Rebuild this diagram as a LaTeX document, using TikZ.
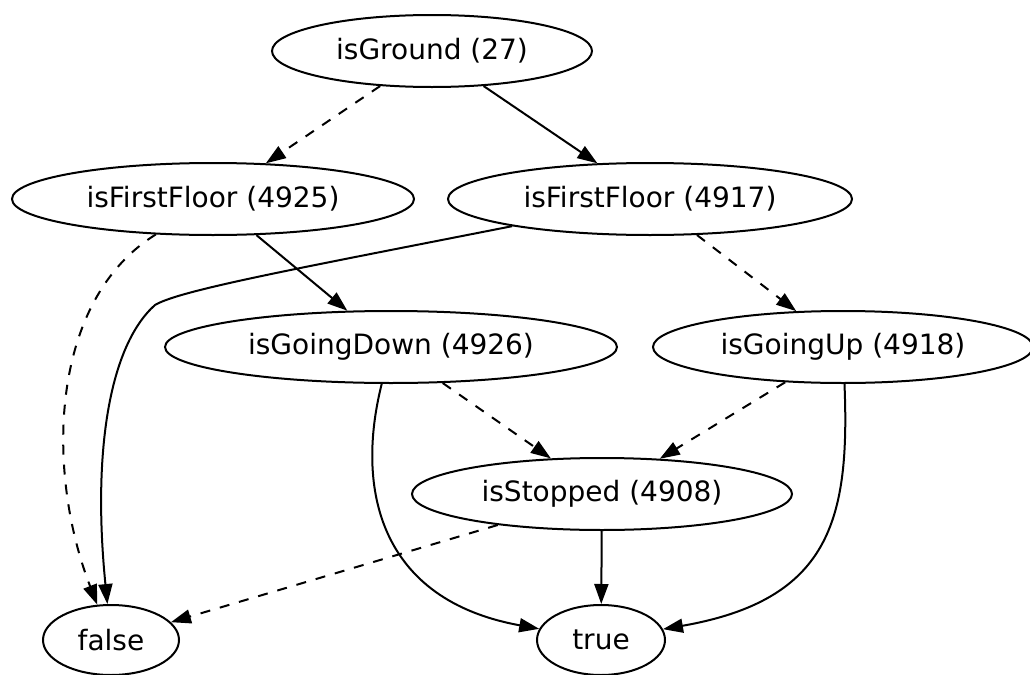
\documentclass[tikz,border=0pt]{standalone}
\usepackage{fontspec}
\setmainfont{DejaVu Sans}
\usetikzlibrary{shapes.geometric}
\usetikzlibrary{arrows.meta}

\tikzset{
  bddnode/.style={draw, ellipse, line width=1pt, inner sep=0pt,
                  minimum height=36pt, font=\fontsize{14}{16}\selectfont},
  hiedge/.style={line width=1pt, -{Triangle[length=10pt,width=7pt]}},
  loedge/.style={hiedge, dash pattern=on 5pt off 5pt},
}

\begin{document}
\begin{tikzpicture}[x=0.5pt, y=-0.5pt]
\useasboundingbox (0,0) rectangle (1030,675);

\node[bddnode, minimum width=160pt] (ground) at (432,51) {isGround (27)};
\node[bddnode, minimum width=201pt] (firstlo) at (213,199) {isFirstFloor (4925)};
\node[bddnode, minimum width=202pt] (firsthi) at (650,199) {isFirstFloor (4917)};
\node[bddnode, minimum width=226pt] (down) at (391,347) {isGoingDown (4926)};
\node[bddnode, minimum width=190pt] (up) at (843,347) {isGoingUp (4918)};
\node[bddnode, minimum width=190pt] (stopped) at (602,494) {isStopped (4908)};
\node[bddnode, minimum width=68pt, minimum height=35pt] (falsenode) at (111,640) {false};
\node[bddnode, minimum width=64pt, minimum height=35pt] (truenode) at (601,640) {true};

\coordinate (bend) at (155,305);

\draw[loedge] (ground) -- (firstlo);
\draw[hiedge] (ground) -- (firsthi);
\draw[hiedge] (firstlo) -- (down);
\draw[loedge] (firsthi) -- (up);
\draw[loedge] (down) -- (stopped);
\draw[loedge] (up) -- (stopped);
\draw[hiedge] (stopped) -- (truenode);
\draw[loedge] (stopped) -- (falsenode);
\draw[loedge] (firstlo) .. controls (50,300) and (45,470) .. (falsenode);
\draw[hiedge] (firsthi) .. controls (300,268) and (180,290) .. (bend)
  .. controls (110,345) and (92,450) .. (falsenode);
\draw[hiedge] (down) .. controls (355,490) and (380,600) .. (truenode);
\draw[hiedge] (up) .. controls (850,520) and (830,600) .. (truenode);
\end{tikzpicture}
\end{document}
